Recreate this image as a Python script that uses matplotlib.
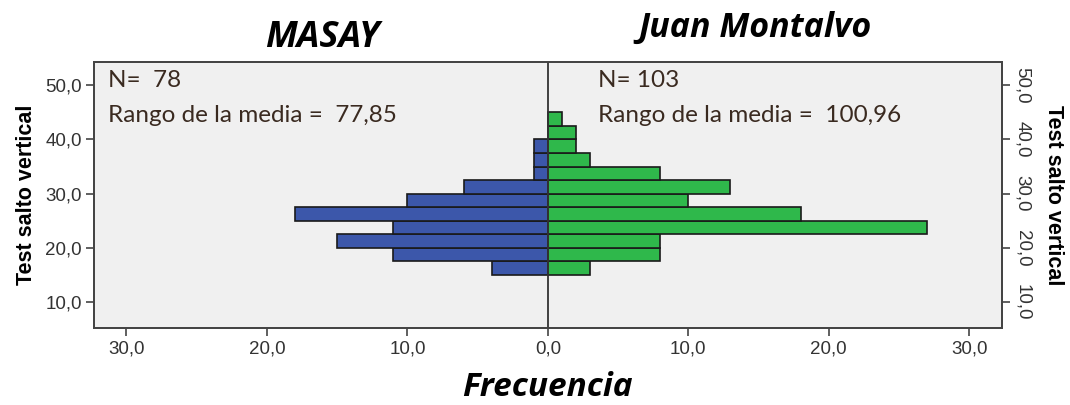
import numpy as np
import matplotlib.pyplot as plt

# bins of 2.5 (lower edges), counts per group
bin_lo = [15.0, 17.5, 20.0, 22.5, 25.0, 27.5, 30.0, 32.5, 35.0, 37.5, 40.0, 42.5]
masay = [4, 11, 15, 11, 18, 10, 6, 1, 1, 1, 0, 0]
juan = [3, 8, 8, 27, 18, 10, 13, 8, 3, 2, 2, 1]
bin_w = 2.5
yticks = [10, 20, 30, 40, 50]
xticks = [-30, -20, -10, 0, 10, 20, 30]

fig = plt.figure(figsize=(10.7, 4.05), dpi=100)
ax = fig.add_axes([0.088, 0.19, 0.848, 0.657])
ax.set_facecolor('#f0f0f0')

bl = np.array(bin_lo)
ax.barh(bl, -np.array(masay), height=bin_w, align='edge', color='#3c57aa',
        edgecolor='#1a1a1a', linewidth=1.2, zorder=2)
ax.barh(bl, juan, height=bin_w, align='edge', color='#2fb84b',
        edgecolor='#1a1a1a', linewidth=1.2, zorder=2)
ax.axvline(0, color='#333333', linewidth=1.3, zorder=3)

tk = dict(fontsize=13.5, family='Liberation Sans', color='#333333')
ax.set_xlim(-32.3, 32.3)
ax.set_ylim(5.2, 54.3)
ax.set_xticks(xticks)
ax.set_xticklabels([f"{abs(v):.1f}".replace('.', ',') for v in xticks], **tk)
ax.set_yticks(yticks)
ax.set_yticklabels([f"{v:.1f}".replace('.', ',') for v in yticks], **tk)
ax.tick_params(direction='out', length=6, width=1.2, color='#444444', pad=3)
for s in ax.spines.values():
    s.set_color('#444444')
    s.set_linewidth(1.3)

ax.set_ylabel('Test salto vertical', fontsize=15.5, fontweight='bold',
              family='Liberation Sans', labelpad=6)

ax2 = ax.twinx()
ax2.set_ylim(ax.get_ylim())
ax2.set_yticks(yticks)
ax2.set_yticklabels([f"{v:.1f}".replace('.', ',') for v in yticks],
                    rotation=-90, va='center', **tk)
ax2.tick_params(direction='out', length=6, width=1.2, color='#444444', pad=3)
ax2.set_ylabel('Test salto vertical', fontsize=15.5, fontweight='bold',
               family='Liberation Sans', rotation=-90, labelpad=24)
for s in ax2.spines.values():
    s.set_color('#444444')
    s.set_linewidth(1.3)

tc = '#3a2a20'
ax.text(-31.3, 50.9, 'N=  78', fontsize=17.5, family='Lato', color=tc, va='center')
ax.text(-31.3, 44.4, 'Rango de la media =  77,85', fontsize=17.5, family='Lato',
        color=tc, va='center')
ax.text(3.6, 50.9, 'N= 103', fontsize=17.5, family='Lato', color=tc, va='center')
ax.text(3.6, 44.4, 'Rango de la media =  100,96', fontsize=17.5, family='Lato',
        color=tc, va='center')

fig.text(0.301, 0.905, 'MASAY', fontsize=26, fontweight='bold', style='italic',
         family='Open Sans', ha='center', va='center')
fig.text(0.706, 0.93, 'Juan Montalvo', fontsize=24.5, fontweight='bold',
         style='italic', family='Open Sans', ha='center', va='center')
fig.text(0.512, 0.042, 'Frecuencia', fontsize=24, fontweight='bold',
         style='italic', family='Open Sans', ha='center', va='center')

fig.savefig('out.png', dpi=100)
